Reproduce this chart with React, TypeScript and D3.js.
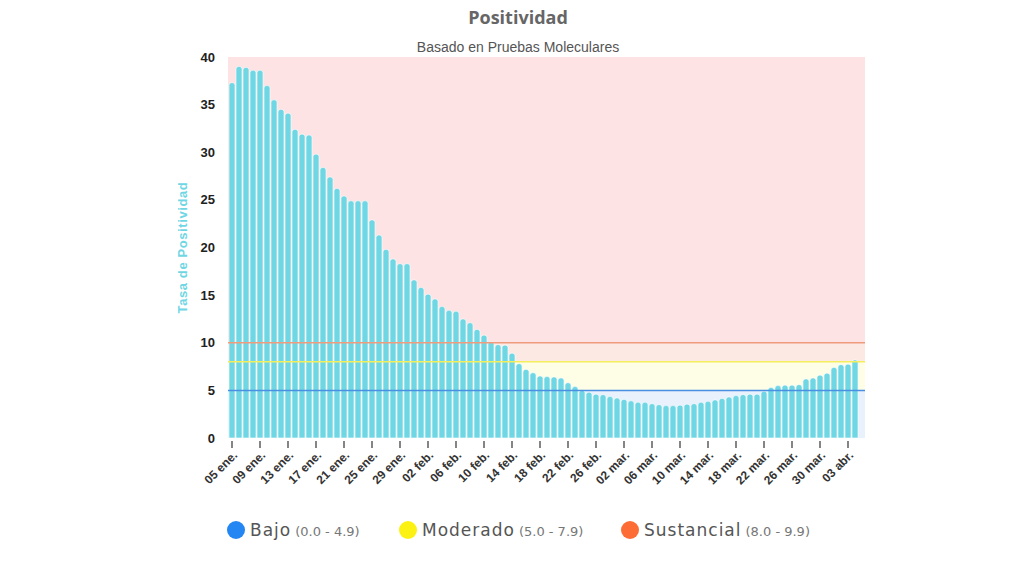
import React from 'react';
import * as d3 from 'd3';

// daily positivity rate, 05 ene. -> 04 abr.
const positivity = [
  37.3, 39.0, 38.9, 38.6, 38.6, 37.0, 35.5, 34.5, 34.1, 32.4,
  31.9, 31.8, 29.8, 28.4, 27.4, 26.2, 25.4, 24.9, 24.9, 24.9,
  22.9, 21.3, 19.8, 18.8, 18.3, 18.3, 16.6, 15.8, 15.1, 14.6,
  13.8, 13.4, 13.3, 12.5, 12.1, 11.4, 10.8, 10.1, 9.8, 9.75,
  8.9, 7.8, 7.2, 6.85, 6.5, 6.45, 6.4, 6.3, 5.8, 5.4,
  5.0, 4.8, 4.6, 4.55, 4.35, 4.2, 4.05, 3.9, 3.75, 3.75,
  3.6, 3.5, 3.4, 3.4, 3.45, 3.55, 3.6, 3.75, 3.85, 4.0,
  4.15, 4.3, 4.45, 4.55, 4.6, 4.6, 4.9, 5.3, 5.5, 5.55,
  5.55, 5.6, 6.2, 6.3, 6.6, 6.8, 7.4, 7.7, 7.75, 8.2,
];

const tickLabels = [
  '05 ene.', '09 ene.', '13 ene.', '17 ene.', '21 ene.', '25 ene.', '29 ene.',
  '02 feb.', '06 feb.', '10 feb.', '14 feb.', '18 feb.', '22 feb.', '26 feb.',
  '02 mar.', '06 mar.', '10 mar.', '14 mar.', '18 mar.', '22 mar.', '26 mar.',
  '30 mar.', '03 abr.',
];
const tickStep = 4;

const yTicks = [0, 5, 10, 15, 20, 25, 30, 35, 40];

const bandBounds = [0, 5, 8, 10, 40];
const bandFills = ['#e8f1fc', '#fefde6', '#fde9e4', '#fde3e3'];

const thresholdValues = [5, 8, 10];
const thresholdColors = ['#4a90e2', '#f3ee5c', '#f09c7c'];

const legendNames = ['Bajo', 'Moderado', 'Sustancial'];
const legendRanges = ['(0.0 - 4.9)', '(5.0 - 7.9)', '(8.0 - 9.9)'];
const legendColors = ['#2386f2', '#fbf214', '#fd6c35'];
const legendX = [236, 408, 630];

const W = 1024;
const H = 575;
const plotLeft = 228;
const plotRight = 865;

function roundedTop(x: number, y: number, w: number, h: number, r: number) {
  const rr = Math.min(r, w / 2, h);
  return `M${x},${y + h}V${y + rr}Q${x},${y} ${x + rr},${y}H${x + w - rr}Q${x + w},${y} ${x + w},${y + rr}V${y + h}Z`;
}

const App: React.FC = () => {
  const idx = positivity.map((_, i) => i);
  const x = d3.scaleBand<number>().domain(idx).range([228.5, 228.5 + 7 * positivity.length]).padding(0);
  const y = d3.scaleLinear().domain([0, 40]).range([438, 57]);
  const bw = x.bandwidth();

  const axisFont = 'Arial, "Liberation Sans", sans-serif';
  const legendFont = '"DejaVu Sans", sans-serif';

  return (
    <svg width={W} height={H} style={{ position: 'absolute', left: 0, top: 0, background: '#fff' }}>
      <text x={518} y={24} textAnchor="middle" fontFamily='"Open Sans", sans-serif' fontWeight={700} fontSize={18} fill="#666">
        Positividad
      </text>
      <text x={518} y={52} textAnchor="middle" fontFamily={axisFont} fontSize={14} fill="#555">
        Basado en Pruebas Moleculares
      </text>

      {bandFills.map((f, i) => (
        <rect key={i} x={plotLeft} width={plotRight - plotLeft}
          y={y(bandBounds[i + 1])} height={y(bandBounds[i]) - y(bandBounds[i + 1])} fill={f} />
      ))}

      {positivity.map((v, i) => (
        <path key={i} d={roundedTop(x(i)! + 0.5, y(v), bw - 1, y(0) - y(v), 2.5)}
          fill="#6fd6e4" stroke="#fff" strokeWidth={0.6} />
      ))}

      {thresholdValues.map((v, i) => (
        <line key={i} x1={plotLeft} x2={plotRight} y1={y(v)} y2={y(v)} stroke={thresholdColors[i]} strokeWidth={1.5} />
      ))}

      {yTicks.map(t => (
        <text key={t} x={215} y={y(t)} dy="0.35em" textAnchor="end" fontFamily={axisFont}
          fontWeight={700} fontSize={13} fill="#222">{t}</text>
      ))}

      <text transform={`translate(187,${(y(0) + y(40)) / 2}) rotate(-90)`} textAnchor="middle"
        fontFamily={axisFont} fontWeight={700} fontSize={13} letterSpacing={0.6} fill="#6fd6e4">
        Tasa de Positividad
      </text>

      {tickLabels.map((lab, i) => {
        const cx = x(i * tickStep)! + bw / 2;
        return (
          <g key={lab} transform={`translate(${cx},0)`}>
            <line y1={441} y2={448} stroke="#333" strokeWidth={1.2} />
            <text transform="translate(6,456) rotate(-45)" textAnchor="end" fontFamily={axisFont}
              fontWeight={700} fontSize={12} fill="#333">{lab}</text>
          </g>
        );
      })}

      {legendNames.map((name, i) => (
        <g key={name} transform={`translate(${legendX[i]},530)`}>
          <circle r={9} fill={legendColors[i]} />
          <text x={14} y={0} dy="0.35em" fontFamily={legendFont} fontSize={17} letterSpacing={1} fill="#555">
            {name}
            <tspan fontSize={13} letterSpacing={0} fill="#777" dx={4}>{legendRanges[i]}</tspan>
          </text>
        </g>
      ))}
    </svg>
  );
};

export default App;
